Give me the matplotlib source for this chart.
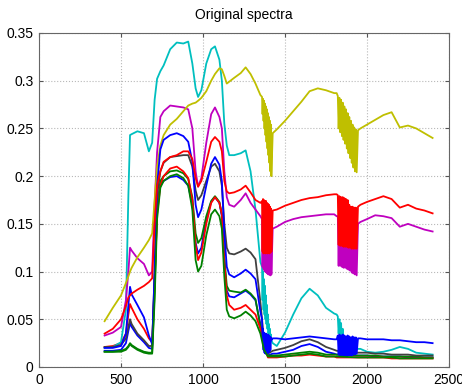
import numpy as np
import matplotlib
matplotlib.use('Agg')
import matplotlib.pyplot as plt

# wavelengths (nm) shared by all spectra
wl = [400, 450, 500, 530, 545, 555, 565, 600, 640, 670,
      690, 705, 720, 740, 760, 800, 840, 880, 910, 935,
      955, 970, 990, 1020, 1050, 1073, 1100, 1115, 1130, 1145,
      1160, 1190, 1230, 1260, 1290, 1320, 1350, 1425, 1450, 1500,
      1550, 1600, 1650, 1700, 1750, 1800, 1815, 1945, 1960, 2000,
      2050, 2100, 2150, 2200, 2250, 2300, 2350, 2400]
# extra points for the smooth spectra in the water band
wl_drop = [1372, 1396]
# noisy absorption bands
wl_n1 = [1360, 1363, 1366, 1369, 1372, 1375, 1378, 1381, 1384, 1387,
         1390, 1393, 1396, 1399, 1402, 1405, 1408, 1411, 1414, 1417]
wl_n2 = [1822, 1827, 1832, 1837, 1842, 1847, 1852, 1857, 1862, 1867, 1872, 1877,
         1882, 1887, 1892, 1897, 1902, 1907, 1912, 1917, 1922, 1927, 1932, 1937]

blue_low = [.017, .017, .018, .025, .038, .046, .042, .033, .026, .020,
            .019, .09, .17, .19, .195, .199, .200, .196, .19, .17,
            .13, .119, .125, .155, .173, .178, .172, .158, .11, .08,
            .074, .073, .077, .080, .076, .07, .045, .014, .014, .016,
            .018, .022, .024, .021, .016, .014, .013, .012, .012, .012,
            .011, .011, .011, .011, .010, .010, .010, .010]
blue_low_drop = [.022, .012]

green1 = [.016, .016, .017, .019, .022, .025, .023, .019, .016, .015,
          .015, .08, .165, .195, .200, .205, .206, .203, .197, .178,
          .140, .130, .135, .158, .174, .179, .173, .160, .115, .085,
          .080, .079, .078, .081, .077, .071, .042, .012, .012, .013,
          .014, .015, .016, .015, .013, .013, .013, .012, .012, .012,
          .012, .011, .011, .011, .011, .011, .010, .010]
green1_drop = [.020, .012]

red2 = [.021, .022, .025, .035, .055, .066, .062, .050, .040, .030,
        .026, .09, .16, .19, .200, .208, .210, .205, .198, .175,
        .128, .112, .120, .150, .172, .178, .172, .160, .110, .075,
        .065, .060, .062, .065, .060, .055, .040, .010, .010, .011,
        .012, .012, .013, .012, .011, .011, .010, .010, .010, .010,
        .010, .010, .009, .009, .009, .009, .009, .009]
red2_drop = [.022, .010]

cyan = [.020, .021, .026, .06, .18, .243, .244, .247, .245, .226,
        .235, .28, .302, .310, .316, .333, .340, .339, .341, .318,
        .292, .283, .290, .318, .333, .336, .322, .300, .255, .232,
        .222, .222, .224, .227, .205, .165, .11, .025, .022, .036,
        .055, .072, .082, .075, .062, .056, .055, .019, .019, .016,
        .015, .016, .018, .021, .019, .015, .014, .013]
cyan_n1 = [.105, .070, .100, .060, .092, .055, .085, .050, .075, .045,
           .065, .040, .055, .035, .045, .032, .040, .030, .034, .028]
cyan_n2 = [.053, .035, .050, .025, .046, .020, .040, .018, .030, .018, .022, .018,
           .018, .018, .018, .018, .018, .018, .018, .018, .018, .018, .018, .019]

magenta = [.033, .036, .042, .07, .10, .125, .122, .114, .108, .096,
           .10, .17, .225, .262, .268, .274, .273, .272, .270, .250,
           .205, .189, .198, .235, .265, .272, .262, .250, .205, .178,
           .170, .168, .175, .182, .172, .165, .158, .145, .147, .152,
           .155, .157, .158, .159, .160, .160, .158, .150, .152, .155,
           .159, .158, .156, .147, .150, .147, .144, .142]
magenta_n1 = [.155, .105, .154, .103, .153, .101, .152, .100, .151, .099,
              .150, .098, .149, .097, .147, .097, .146, .096, .144, .097]
magenta_n2 = [.158, .106, .158, .106, .157, .105, .157, .104, .156, .104, .155, .103,
              .154, .102, .153, .101, .152, .099, .151, .098, .150, .097, .149, .096]

yellow = [.048, .062, .075, .088, .095, .100, .104, .115, .125, .133,
          .140, .175, .210, .232, .243, .254, .260, .268, .274, .276,
          .277, .279, .282, .289, .300, .307, .313, .312, .305, .297,
          .299, .303, .308, .314, .307, .297, .285, .245, .249, .258,
          .268, .278, .289, .292, .290, .287, .287, .248, .250, .254,
          .259, .264, .267, .251, .253, .250, .245, .240]
yellow_n1 = [.283, .265, .281, .258, .279, .250, .276, .243, .273, .236,
             .270, .229, .266, .222, .262, .214, .258, .205, .254, .200]
yellow_n2 = [.284, .250, .282, .246, .280, .242, .277, .238, .273, .234, .270, .229,
             .266, .224, .262, .219, .258, .214, .254, .209, .251, .205, .249, .204]

gray = [.021, .021, .023, .030, .042, .050, .045, .035, .028, .022,
        .022, .10, .18, .205, .214, .220, .221, .222, .222, .21,
        .185, .175, .18, .195, .21, .213, .205, .19, .15, .125,
        .119, .118, .121, .124, .120, .113, .068, .017, .018, .020,
        .023, .027, .029, .026, .021, .018, .017, .015, .015, .015,
        .014, .014, .013, .013, .013, .012, .012, .012]
gray_drop = [.028, .014]

blue_high = [.020, .020, .022, .035, .065, .084, .076, .065, .052, .033,
             .024, .10, .19, .228, .238, .243, .245, .242, .236, .215,
             .170, .157, .165, .19, .213, .220, .212, .195, .14, .105,
             .097, .094, .098, .102, .098, .092, .058, .030, .030, .029,
             .030, .031, .032, .031, .030, .029, .029, .030, .030, .029,
             .029, .029, .028, .028, .027, .026, .026, .025]
blue_high_n1 = [.050, .030, .040, .018, .036, .015, .035, .014, .035, .014,
                .034, .015, .034, .015, .033, .016, .032, .018, .031, .028]
blue_high_n2 = [.033, .013, .034, .012, .033, .012, .034, .011, .033, .012, .032, .011,
                .033, .012, .032, .012, .031, .012, .032, .013, .031, .013, .031, .014]

green2 = [.016, .016, .016, .018, .021, .024, .022, .018, .015, .014,
          .014, .07, .155, .188, .195, .200, .202, .198, .19, .165,
          .112, .100, .106, .138, .160, .165, .158, .145, .095, .06,
          .053, .051, .054, .058, .054, .048, .035, .011, .011, .011,
          .012, .013, .014, .013, .011, .011, .011, .010, .010, .010,
          .010, .010, .010, .009, .009, .009, .009, .009]
green2_drop = [.018, .011]

red1 = [.035, .040, .050, .064, .073, .075, .077, .081, .085, .089,
        .093, .15, .19, .205, .215, .220, .222, .226, .226, .218,
        .198, .189, .195, .215, .236, .241, .236, .226, .195, .184,
        .182, .183, .186, .190, .183, .175, .172, .164, .165, .169,
        .172, .175, .177, .178, .180, .181, .181, .168, .170, .173,
        .176, .179, .176, .167, .170, .166, .164, .161]
red1_n1 = [.174, .121, .176, .119, .175, .120, .174, .119, .174, .120,
           .172, .119, .171, .120, .170, .119, .168, .120, .166, .121]
red1_n2 = [.180, .128, .179, .127, .178, .127, .178, .126, .177, .126, .176, .126,
           .175, .125, .170, .125, .168, .124, .168, .124, .167, .124, .167, .124]


def spectrum(main, drop=None, n1=None, n2=None):
    x = list(wl)
    y = list(main)
    assert len(x) == len(y)
    if drop is not None:
        x += wl_drop; y += drop
    if n1 is not None:
        assert len(n1) == len(wl_n1)
        x += wl_n1; y += n1
    if n2 is not None:
        assert len(n2) == len(wl_n2)
        x += wl_n2; y += n2
    x = np.array(x); y = np.array(y)
    o = np.argsort(x, kind='stable')
    return x[o], y[o]


# MATLAB default colour order, drawn in that order
series = [
    (spectrum(blue_low, drop=blue_low_drop), (0, 0, 1)),
    (spectrum(green1, drop=green1_drop), (0, 0.5, 0)),
    (spectrum(red2, drop=red2_drop), (1, 0, 0)),
    (spectrum(cyan, n1=cyan_n1, n2=cyan_n2), (0, 0.75, 0.75)),
    (spectrum(magenta, n1=magenta_n1, n2=magenta_n2), (0.75, 0, 0.75)),
    (spectrum(yellow, n1=yellow_n1, n2=yellow_n2), (0.75, 0.75, 0)),
    (spectrum(gray, drop=gray_drop), (0.25, 0.25, 0.25)),
    (spectrum(blue_high, n1=blue_high_n1, n2=blue_high_n2), (0, 0, 1)),
    (spectrum(green2, drop=green2_drop), (0, 0.5, 0)),
    (spectrum(red1, n1=red1_n1, n2=red1_n2), (1, 0, 0)),
]

plt.rcParams['font.family'] = ['Liberation Sans', 'DejaVu Sans']
plt.rcParams['path.simplify'] = False   # keep every spike of the noisy bands
fig = plt.figure(figsize=(4.62, 3.90), dpi=100)
ax = fig.add_axes([39 / 462, 23 / 390, 410 / 462, 334 / 390])

for (x, y), col in series:
    ax.plot(x, y, color=col, lw=1.3)

ax.set_xlim(0, 2500)
ax.set_ylim(0, 0.35)
ax.set_xticks([0, 500, 1000, 1500, 2000, 2500])
ax.set_yticks([0, 0.05, 0.1, 0.15, 0.2, 0.25, 0.3, 0.35])
ax.set_yticklabels(['0', '0.05', '0.1', '0.15', '0.2', '0.25', '0.3', '0.35'])
ax.grid(True, linestyle=':', color='#b8b8b8', lw=0.8)
ax.tick_params(direction='in', length=3, top=True, right=True, labelsize=10,
               color='#555555', pad=4)
for s in ax.spines.values():
    s.set_color('#666666')
    s.set_linewidth(0.8)
ax.set_title('Original spectra', fontsize=10, pad=10)

fig.savefig('out.png', dpi=100)
